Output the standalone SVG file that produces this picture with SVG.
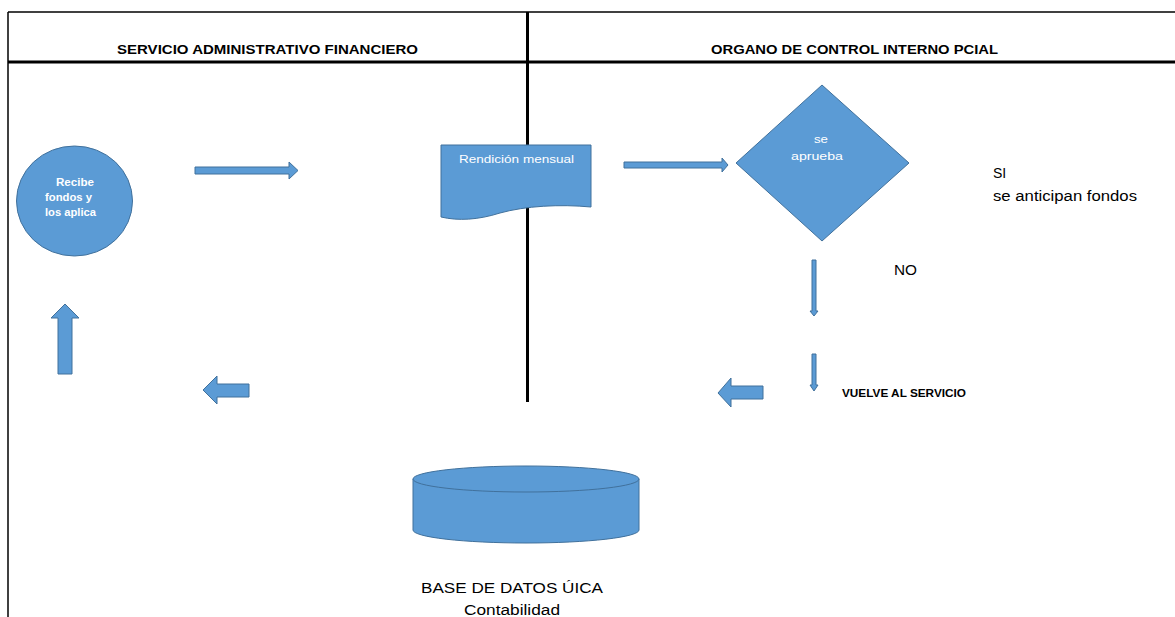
<svg xmlns="http://www.w3.org/2000/svg" width="1175" height="617" viewBox="0 0 1175 617">
<style>
.shape{fill:#5B9BD5;stroke:#41719C;stroke-width:1}
.frame{stroke:#000;fill:none}
.hdr{font-family:"Liberation Sans",Arial,sans-serif;font-weight:bold;font-size:13px;fill:#000}
.wt{font-family:"Liberation Sans",Arial,sans-serif;font-size:11px;fill:#fff}
.wtb{font-family:"Liberation Sans",Arial,sans-serif;font-size:11px;font-weight:bold;fill:#fff}
.lbl{font-family:"Liberation Sans",Arial,sans-serif;font-size:14px;fill:#000}
.lblb{font-family:"Liberation Sans",Arial,sans-serif;font-size:11px;font-weight:bold;fill:#000}
</style>
<rect width="1175" height="617" fill="#fff"/>
<g id="frame">
<line class="frame" x1="8" y1="12" x2="1175" y2="12" stroke-width="1.5"/>
<line class="frame" x1="8" y1="12" x2="8" y2="617" stroke-width="1.5"/>
<line class="frame" x1="8" y1="62" x2="1175" y2="62" stroke-width="3"/>
<line class="frame" x1="527.5" y1="12" x2="527.5" y2="402" stroke-width="3"/>
<text class="hdr" x="117" y="54" textLength="301" lengthAdjust="spacingAndGlyphs">SERVICIO ADMINISTRATIVO FINANCIERO</text>
<text class="hdr" x="711" y="54" textLength="287" lengthAdjust="spacingAndGlyphs">ORGANO DE CONTROL INTERNO PCIAL</text>
</g>
<g id="node-recibe">
<ellipse class="shape" cx="74.5" cy="201" rx="58" ry="55"/>
<text class="wtb" x="56" y="186" textLength="38" lengthAdjust="spacingAndGlyphs">Recibe</text>
<text class="wtb" x="45" y="201" textLength="47" lengthAdjust="spacingAndGlyphs">fondos y</text>
<text class="wtb" x="45" y="216" textLength="51" lengthAdjust="spacingAndGlyphs">los aplica</text>
</g>
<g id="node-rendicion">
<path class="shape" d="M441,145 H591 V207 C560,204 525,206 500,213 C478,220 458,221 441,217 Z"/>
<text class="wt" x="459" y="163" textLength="115" lengthAdjust="spacingAndGlyphs">Rendición mensual</text>
</g>
<g id="node-aprueba">
<polygon class="shape" points="822,85 909,163 822,241 736,163"/>
<text class="wt" x="814" y="143" textLength="14" lengthAdjust="spacingAndGlyphs">se</text>
<text class="wt" x="791" y="160" textLength="52" lengthAdjust="spacingAndGlyphs">aprueba</text>
</g>
<g id="node-si">
<text class="lbl" x="993" y="178">SI</text>
<text class="lbl" x="993" y="201" textLength="144" lengthAdjust="spacingAndGlyphs">se anticipan fondos</text>
</g>
<g id="node-no">
<text class="lbl" x="894" y="275" textLength="23" lengthAdjust="spacingAndGlyphs">NO</text>
</g>
<g id="node-vuelve">
<text class="lblb" x="842" y="397" textLength="124" lengthAdjust="spacingAndGlyphs">VUELVE AL SERVICIO</text>
</g>
<g id="node-base">
<path class="shape" d="M413,479 V530 A113,13 0 0 0 639,530 V479 Z"/>
<ellipse class="shape" cx="526" cy="479" rx="113" ry="13"/>
<text class="lbl" x="512" y="593" text-anchor="middle" textLength="182" lengthAdjust="spacingAndGlyphs">BASE DE DATOS ÚICA</text>
<text class="lbl" x="512" y="615" text-anchor="middle" textLength="96" lengthAdjust="spacingAndGlyphs">Contabilidad</text>
</g>
<g id="connectors">
<polygon class="shape" points="195,167 289,167 289,162 298,170.5 289,179 289,174 195,174"/>
<polygon class="shape" points="624,162 722,162 722,158 728,165 722,172 722,168 624,168"/>
<polygon class="shape" points="812,260 816,260 816,311 818,311 814,316 810,311 812,311"/>
<polygon class="shape" points="812,354 816,354 816,385 818,385 814,391 810,385 812,385"/>
<polygon class="shape" points="58,374 58,318 51,318 65,304 79,318 72,318 72,374"/>
<polygon class="shape" points="249,384 217,384 217,376 203,390 217,404 217,397 249,397"/>
<polygon class="shape" points="763,386 731,386 731,378 718,393 731,407 731,399 763,399"/>
</g>
</svg>
